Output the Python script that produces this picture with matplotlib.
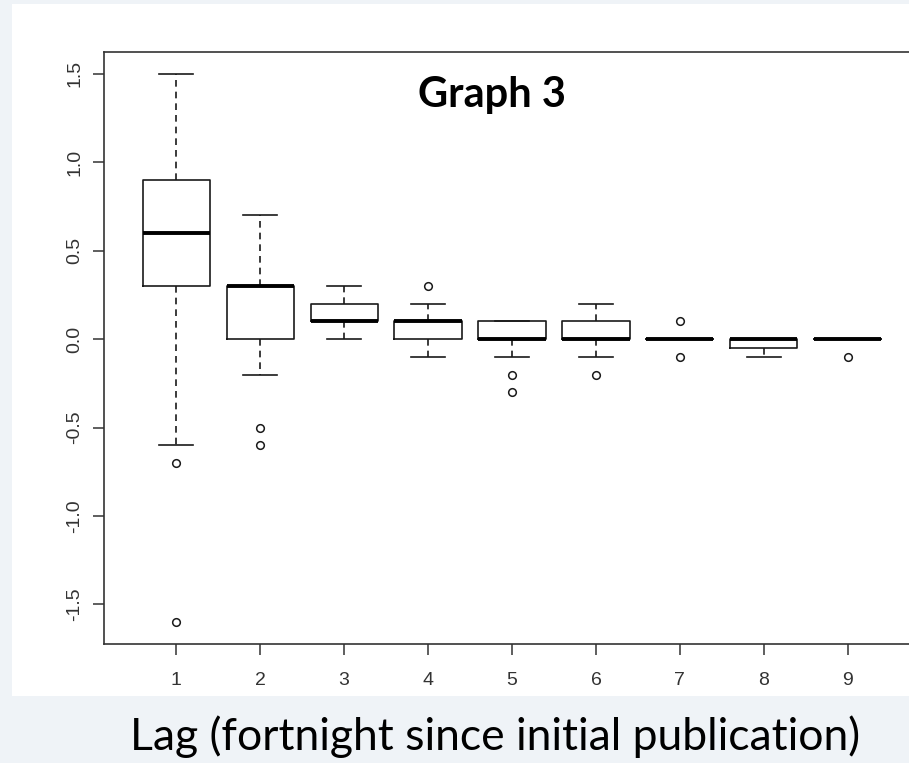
import numpy as np
import matplotlib.pyplot as plt
from matplotlib.patches import Rectangle

# box statistics (lag 1..9)
lags = [1, 2, 3, 4, 5, 6, 7, 8, 9]
whislo = [-0.6, -0.2, 0.0, -0.1, -0.1, -0.1, 0.0, -0.1, 0.0]
q1 = [0.3, 0.0, 0.1, 0.0, 0.0, 0.0, 0.0, -0.05, 0.0]
med = [0.6, 0.3, 0.1, 0.1, 0.0, 0.0, 0.0, 0.0, 0.0]
q3 = [0.9, 0.3, 0.2, 0.1, 0.1, 0.1, 0.0, 0.0, 0.0]
whishi = [1.5, 0.7, 0.3, 0.2, 0.1, 0.2, 0.0, 0.0, 0.0]
fliers = [[-0.7, -1.6], [-0.5, -0.6], [], [0.3], [-0.2, -0.3], [-0.2], [0.1, -0.1], [], [-0.1]]
yticks = [-1.5, -1.0, -0.5, 0.0, 0.5, 1.0, 1.5]

W, H = 909, 763
fig = plt.figure(figsize=(W / 100, H / 100), dpi=100)
fig.patch.set_facecolor('#eff3f7')

# white panel behind the R plot
fig.patches.append(Rectangle((12 / W, 1 - 696 / H), (W - 12) / W, (696 - 4) / H,
                             transform=fig.transFigure, facecolor='white',
                             edgecolor='none', zorder=-5))

ax = fig.add_axes([104 / W, 1 - 644 / H, (920 - 104) / W, (644 - 52) / H])
ax.set_facecolor('white')

stats = []
for i in range(len(lags)):
    stats.append(dict(whislo=whislo[i], q1=q1[i], med=med[i], q3=q3[i],
                      whishi=whishi[i], fliers=fliers[i]))

ink = '#1a1a1a'
ax.bxp(stats, positions=lags, widths=0.8, capwidths=0.4, showfliers=True,
       boxprops=dict(color=ink, linewidth=1.2),
       medianprops=dict(color='black', linewidth=2.8, solid_capstyle='butt'),
       whiskerprops=dict(color=ink, linewidth=1.2, linestyle=(0, (4, 3))),
       capprops=dict(color=ink, linewidth=1.2),
       flierprops=dict(marker='o', markersize=5.5, markerfacecolor='none',
                       markeredgecolor=ink, markeredgewidth=1.1))

ax.set_xlim(0.14, 9.86)
ax.set_ylim(-1.724, 1.624)
ax.tick_params(axis='both', length=8, width=1.1, color='#333333',
               labelsize=14, labelcolor='#333333')
ax.tick_params(axis='x', pad=12)
ax.tick_params(axis='y', pad=7)
ax.set_xticks(lags)
ax.set_xticklabels([str(v) for v in lags], family='Liberation Sans')
ax.set_yticks(yticks)
ax.set_yticklabels(['%.1f' % v for v in yticks], rotation=90, va='center',
                   family='Liberation Sans')
for sp in ax.spines.values():
    sp.set_color('#333333')
    sp.set_linewidth(1.2)

fig.text(492 / W, 1 - 107 / H, 'Graph 3', family='Lato', fontweight='bold',
         fontsize=30, ha='center', va='baseline', color='black')
fig.text(495 / W, 1 - 750 / H, 'Lag (fortnight since initial publication)',
         family='Lato', fontsize=32, ha='center', va='baseline', color='black')

fig.savefig('out.png', dpi=100, facecolor=fig.get_facecolor())
